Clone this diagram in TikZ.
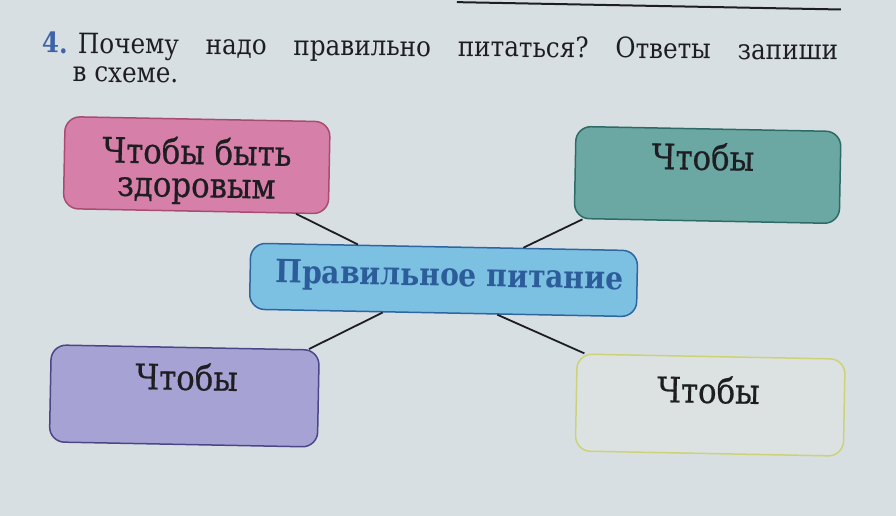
\documentclass[tikz,border=0pt]{standalone}
\usepackage{fontspec}
\setmainfont{DejaVu Serif}
\newfontfamily\boxfont[FakeStretch=0.88]{DejaVu Serif}
\newfontfamily\boxfontb[FakeStretch=0.88,FakeBold=0.6]{DejaVu Serif}
\usetikzlibrary{calc}
\definecolor{paper}{HTML}{D8DFE3}
\definecolor{pinkfill}{HTML}{D67FA8}
\definecolor{pinkline}{HTML}{A84C72}
\definecolor{greenfill}{HTML}{6CA8A3}
\definecolor{greenline}{HTML}{2E6B66}
\definecolor{bluefill}{HTML}{7CC0E2}
\definecolor{blueline}{HTML}{2D66A0}
\definecolor{bluetext}{HTML}{2C5D9A}
\definecolor{purplefill}{HTML}{A7A2D4}
\definecolor{purpleline}{HTML}{4A4688}
\definecolor{yellowline}{HTML}{CDD278}
\definecolor{yellowfill}{HTML}{DCE2E2}
\definecolor{ink}{HTML}{1E1E22}
\definecolor{numblue}{HTML}{3D64A8}
\begin{document}
\frenchspacing
\begin{tikzpicture}[x=1pt,y=-1pt,
  box/.style={draw, rounded corners=15pt, line width=1.5pt, inner sep=0pt},
  smallbox/.style={box, minimum width=265pt, minimum height=92pt},
  bigbox/.style={box, minimum width=268pt, minimum height=97pt},
  boxtext/.style={anchor=base, inner sep=0pt, text=ink, font=\boxfontb\fontsize{35}{33}\selectfont},
  head/.style={anchor=base west, inner sep=0pt, text=ink, font=\boxfont\fontsize{28}{32}\selectfont},
  link/.style={draw=ink, line width=1.8pt}]
\useasboundingbox (0,0) rectangle (896,516);
\fill[paper] (0,0) rectangle (896,516);
\begin{scope}[rotate around={-0.5:(448,258)}, transform shape]
  \node[anchor=base west, inner sep=0pt, text=numblue, font=\boxfont\bfseries\fontsize{28}{32}\selectfont] (num) at (40,56.5) {4.};
  \node[head] (q1) at (76,56.5) {\makebox[760pt][s]{Почему надо правильно питаться? Ответы запиши}};
  \node[head] (q2) at (71,85) {в схеме.};
\end{scope}
\begin{scope}[rotate around={-1.1:(448,258)}, transform shape]
  % top rule
  \coordinate (ruleA) at (452,2);
  \coordinate (ruleB) at (836,2);
  \draw[ink, line width=2pt] (ruleA) -- (ruleB);
  % boxes
  \node[smallbox, fill=pinkfill, draw=pinkline] (pink) at (195,170) {};
  \node[smallbox, fill=greenfill, draw=greenline] (green) at (706,170) {};
  \node[box, minimum width=387pt, minimum height=66pt, fill=bluefill, draw=blueline] (blue) at (444,280) {};
  \node[bigbox, fill=purplefill, draw=purpleline] (purple) at (187,401) {};
  \node[bigbox, fill=yellowfill, draw=yellowline] (yellow) at (713,400) {};
  % texts
  \node[boxtext, align=center] (pinkt) at (195,202) {Чтобы быть\\здоровым};
  \node[boxtext] (greent) at (701,165) {Чтобы};
  \node[boxtext] (purplet) at (189,395) {Чтобы};
  \node[boxtext] (yellowt) at (711,398) {Чтобы};
  \node[anchor=base, inner sep=0pt, text=bluetext, font=\boxfont\bfseries\fontsize{32}{36}\selectfont] (bluet) at (450,286) {Правильное питание};
  % connectors
  \draw[link] ($(pink.south east)!33pt!(pink.south west)$) -- ($(blue.north west)!0.278!(blue.north east)$);
  \draw[link] ($(green.south west)!9pt!(green.south east)$) -- ($(blue.north west)!0.704!(blue.north east)$);
  \draw[link] ($(blue.south west)!0.345!(blue.south east)$) -- ($(purple.north east)!11pt!(purple.north west)$);
  \draw[link] ($(blue.south west)!0.64!(blue.south east)$) -- ($(yellow.north west)!8pt!(yellow.north east)$);
\end{scope}
\end{tikzpicture}
\end{document}
